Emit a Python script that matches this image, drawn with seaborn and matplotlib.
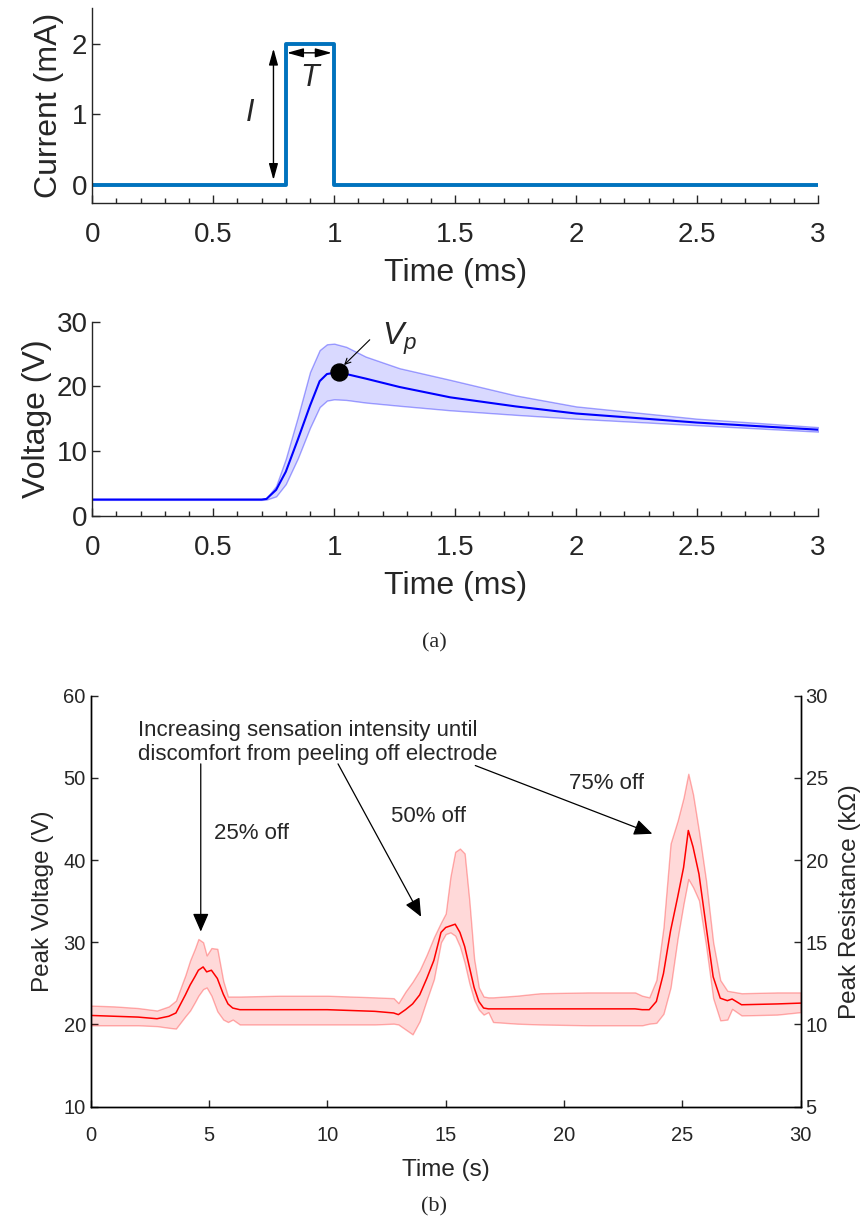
import matplotlib
matplotlib.use("Agg")
import matplotlib.pyplot as plt
import seaborn as sns
from matplotlib.ticker import FormatStrFormatter, MultipleLocator

# (a) top: stimulation current pulse
pulse_t = [0.0, 0.8, 1.0, 3.0]      # ms
pulse_i = [0.0, 2.0, 0.0, 0.0]      # mA

# (a) bottom: electrode voltage, mean and band (ms, V)
volt_t = [0.0, 0.70, 0.72, 0.76, 0.80, 0.85, 0.90, 0.94, 0.97, 1.00, 1.05,
          1.13, 1.27, 1.48, 1.75, 2.0, 2.5, 3.0]
volt_mean = [2.5, 2.5, 2.6, 4.0, 6.8, 11.8, 17.0, 20.8, 21.9, 22.1, 21.9,
             21.2, 19.9, 18.3, 16.9, 15.8, 14.4, 13.3]
volt_hi = [2.6, 2.6, 2.7, 4.6, 8.8, 15.3, 22.2, 25.6, 26.5, 26.6, 26.1,
           24.6, 22.8, 21.0, 18.6, 16.9, 15.0, 13.7]
volt_lo = [2.45, 2.45, 2.5, 3.0, 4.9, 8.9, 13.6, 16.8, 17.8, 18.0, 17.9,
           17.5, 17.0, 16.3, 15.6, 15.0, 14.0, 13.0]
vp_t = [1.02]
vp_v = [22.2]

# (b) peak voltage over time (s, V)
peak_t = [0.0, 1.0, 2.0, 2.8, 3.3, 3.6, 4.0, 4.2, 4.4, 4.55, 4.75, 4.9, 5.1,
          5.35, 5.6, 5.8, 6.0, 6.3, 8.0, 10.0, 12.0, 12.8, 13.0, 13.3, 13.6,
          13.9, 14.2, 14.5, 14.8, 15.0, 15.2, 15.4, 15.6, 15.8, 16.0, 16.2,
          16.4, 16.6, 16.8, 17.0, 18.0, 19.0, 21.0, 23.0, 23.3, 23.6, 23.9,
          24.2, 24.5, 24.8, 25.05, 25.25, 25.45, 25.7, 26.0, 26.3, 26.6, 26.9,
          27.1, 27.5, 29.0, 30.0]
peak_mean = [21.1, 21.0, 20.9, 20.7, 21.0, 21.4, 23.6, 24.8, 25.8, 26.6, 27.0,
             26.4, 26.6, 25.6, 23.7, 22.5, 22.0, 21.8, 21.8, 21.8, 21.6, 21.4,
             21.2, 21.8, 22.5, 23.6, 25.6, 27.8, 31.2, 31.8, 32.0, 32.2, 31.2,
             29.5, 27.0, 24.5, 22.8, 22.0, 21.9, 21.9, 21.9, 21.9, 21.9, 21.9,
             21.8, 21.8, 22.8, 26.2, 31.4, 35.5, 39.1, 43.6, 41.6, 38.3, 32.0,
             25.8, 23.2, 22.9, 23.1, 22.4, 22.5, 22.6]
peak_hi = [22.3, 22.2, 22.0, 21.7, 22.2, 22.9, 26.0, 27.8, 29.2, 30.4, 30.0,
           28.4, 29.3, 29.2, 25.3, 23.4, 23.4, 23.4, 23.5, 23.5, 23.3, 23.2,
           22.6, 24.0, 25.2, 26.6, 28.5, 30.6, 32.4, 33.5, 38.0, 41.0, 41.4,
           40.8, 35.0, 28.0, 24.5, 23.4, 23.3, 23.3, 23.5, 23.8, 23.9, 23.9,
           23.5, 23.3, 25.4, 31.8, 42.0, 44.8, 47.6, 50.5, 48.0, 43.5, 37.5,
           30.0, 25.4, 24.1, 24.0, 23.8, 23.9, 23.9]
peak_lo = [19.9, 19.9, 19.9, 19.8, 19.6, 19.5, 21.0, 21.7, 22.7, 23.5, 24.3,
           24.5, 23.5, 21.6, 20.6, 20.3, 20.6, 20.0, 20.0, 20.0, 20.0, 20.1,
           20.0, 19.4, 18.8, 20.4, 23.0, 25.5, 30.0, 31.0, 31.2, 30.8, 29.5,
           27.5, 25.0, 23.0, 21.8, 21.2, 21.5, 20.3, 20.1, 20.0, 19.9, 19.9,
           19.9, 20.1, 20.2, 21.3, 24.5, 30.5, 34.7, 37.7, 36.7, 35.1, 29.6,
           23.2, 20.5, 20.6, 21.9, 21.1, 21.2, 21.5]

sns.set_style("ticks")
plt.rcParams["font.family"] = ["Liberation Sans", "DejaVu Sans"]
plt.rcParams["mathtext.fontset"] = "custom"
plt.rcParams["mathtext.it"] = "Liberation Sans:italic"
plt.rcParams["mathtext.rm"] = "Liberation Sans"
plt.rcParams["xtick.direction"] = "in"
plt.rcParams["ytick.direction"] = "in"
dark = "#262626"

fig = plt.figure(figsize=(8.68, 12.23), dpi=100)

# ---- current pulse ----
ax1 = fig.add_axes([0.1063, 0.8343, 0.8361, 0.1589])
sns.lineplot(x=pulse_t, y=pulse_i, ax=ax1, color="#0072BD", lw=2.8,
             drawstyle="steps-post", estimator=None, sort=False)
ax1.set_xlim(0, 3)
ax1.set_ylim(-0.25, 2.5)
ax1.set_yticks([0, 1, 2])
ax1.annotate("", xy=(0.749, 1.93), xytext=(0.749, 0.07),
             arrowprops=dict(arrowstyle="<|-|>,head_length=0.9,head_width=0.25",
                             color="black", lw=1, mutation_scale=11,
                             shrinkA=0, shrinkB=0))
ax1.annotate("", xy=(0.805, 1.87), xytext=(0.99, 1.87),
             arrowprops=dict(arrowstyle="<|-|>,head_length=0.9,head_width=0.25",
                             color="black", lw=1, mutation_scale=11,
                             shrinkA=0, shrinkB=0))
ax1.text(0.651, 1.02, "I", fontsize=22, style="italic", ha="center", va="center")
ax1.text(0.900, 1.51, "T", fontsize=22, style="italic", ha="center", va="center")
ax1.set_ylabel("Current (mA)", fontsize=23, labelpad=6)

# ---- voltage response ----
ax2 = fig.add_axes([0.1063, 0.5783, 0.8361, 0.1587])
ax2.fill_between(volt_t, volt_lo, volt_hi, facecolor=(0, 0, 1, 0.15),
                 edgecolor=(0, 0, 1, 0.35), lw=1)
sns.lineplot(x=volt_t, y=volt_mean, ax=ax2, color="blue", lw=1.5,
             estimator=None, sort=False)
sns.scatterplot(x=vp_t, y=vp_v, ax=ax2, color="black", s=150, zorder=5,
                edgecolor="black")
ax2.annotate("", xy=(1.041, 23.3), xytext=(1.147, 27.2),
             arrowprops=dict(arrowstyle="->", color="black", lw=0.8,
                             shrinkA=0, shrinkB=0))
ax2.text(1.27, 27.4, r"$V_p$", fontsize=23, ha="center", va="center")
ax2.set_xlim(0, 3)
ax2.set_ylim(0, 30)
ax2.set_yticks([0, 10, 20, 30])
ax2.set_ylabel("Voltage (V)", fontsize=23, labelpad=3)

for ax in (ax1, ax2):
    sns.despine(ax=ax)
    ax.set_xticks([0, 0.5, 1, 1.5, 2, 2.5, 3])
    ax.xaxis.set_major_formatter(FormatStrFormatter("%g"))
    ax.xaxis.set_minor_locator(MultipleLocator(0.1))
    ax.tick_params(axis="both", which="major", labelsize=20, length=6,
                   width=1, colors=dark)
    ax.tick_params(axis="x", which="major", pad=14)
    ax.tick_params(axis="x", which="minor", length=3.5, width=1, colors=dark)
    ax.set_xlabel("Time (ms)", fontsize=23, labelpad=7, color=dark)
    ax.yaxis.label.set_color(dark)
    for s in ("left", "bottom"):
        ax.spines[s].set_color(dark)
        ax.spines[s].set_linewidth(1)

fig.text(0.5, 1 - 643 / 1223, "(a)", fontsize=16, family="Liberation Serif",
         ha="center", va="center")

# ---- peak voltage over time ----
ax3 = fig.add_axes([0.1045, 0.0951, 0.8180, 0.3361])
ax3.fill_between(peak_t, peak_lo, peak_hi, facecolor=(1, 0, 0, 0.15),
                 edgecolor=(1, 0, 0, 0.3), lw=1)
sns.lineplot(x=peak_t, y=peak_mean, ax=ax3, color="red", lw=1.1,
             estimator=None, sort=False)
ax3.set_xlim(0, 30)
ax3.set_ylim(10, 60)
ax3.set_xticks(range(0, 31, 5))
ax3.set_yticks(range(10, 61, 10))
ax3.set_xlabel("Time (s)", fontsize=17.5, labelpad=10)
ax3.set_ylabel("Peak Voltage (V)", fontsize=17.5, labelpad=7)
ax3.tick_params(labelsize=14.5, length=5, width=1, colors=dark)
ax3.tick_params(axis="x", pad=14)

ax4 = ax3.twinx()
ax4.set_ylim(5, 30)
ax4.set_yticks(range(5, 31, 5))
ax4.tick_params(labelsize=14.5, length=5, width=1, colors=dark)
ax4.set_ylabel("Peak Resistance (k\u03a9)", fontsize=17.5, rotation=90,
               labelpad=8)
for ax in (ax3, ax4):
    ax.spines["top"].set_visible(False)
    for s in ("left", "bottom", "right"):
        ax.spines[s].set_color("black")
        ax.spines[s].set_linewidth(1)

ax3.text(1.99, 55.8, "Increasing sensation intensity until", fontsize=16,
         va="center")
ax3.text(1.99, 52.8, "discomfort from peeling off electrode", fontsize=16,
         va="center")
arrow_kw = dict(arrowstyle="-|>,head_length=0.8,head_width=0.35",
                color="black", lw=0.9, mutation_scale=14,
                shrinkA=0, shrinkB=0)
ax3.annotate("", xy=(4.65, 31.3), xytext=(4.65, 51.7), arrowprops=arrow_kw)
ax3.annotate("", xy=(13.96, 33.1), xytext=(10.45, 51.7), arrowprops=arrow_kw)
ax3.annotate("", xy=(23.73, 43.2), xytext=(16.25, 51.5), arrowprops=arrow_kw)
ax3.text(5.19, 43.2, "25% off", fontsize=16, va="center")
ax3.text(12.67, 45.3, "50% off", fontsize=16, va="center")
ax3.text(20.2, 49.3, "75% off", fontsize=16, va="center")

fig.text(0.5, 1 - 1207 / 1223, "(b)", fontsize=16, family="Liberation Serif",
         ha="center", va="center")

fig.savefig("out.png", dpi=100)
